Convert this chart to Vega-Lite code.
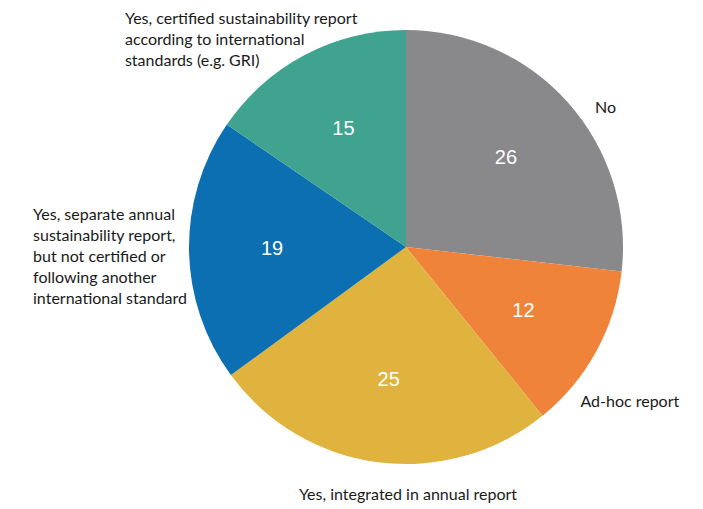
{
  "$schema": "https://vega.github.io/schema/vega-lite/v6.json",
  "width": 594,
  "height": 494,
  "autosize": {"type": "none"},
  "padding": {"left": 109, "right": 0, "top": 0, "bottom": 15},
  "background": "white",
  "view": {"stroke": null},
  "data": {
    "values": [
      {"rank": 1, "category": "No", "value": 26, "label": "No"},
      {"rank": 2, "category": "Ad-hoc report", "value": 12, "label": "Ad-hoc report"},
      {"rank": 3, "category": "Yes, integrated in annual report", "value": 25, "label": "Yes, integrated in annual report"},
      {"rank": 4, "category": "Yes, separate annual sustainability report", "value": 19, "label": "Yes, separate annual\nsustainability report,\nbut not certified or\nfollowing another\ninternational standard"},
      {"rank": 5, "category": "Yes, certified sustainability report", "value": 15, "label": "Yes, certified sustainability report\naccording to international\nstandards (e.g. GRI)"}
    ]
  },
  "encoding": {
    "theta": {"field": "value", "type": "quantitative", "stack": true},
    "order": {"field": "rank", "type": "ordinal"}
  },
  "layer": [
    {
      "mark": {"type": "arc", "outerRadius": 217},
      "encoding": {
        "color": {
          "field": "category",
          "type": "nominal",
          "legend": null,
          "scale": {
            "domain": ["No", "Ad-hoc report", "Yes, integrated in annual report", "Yes, separate annual sustainability report", "Yes, certified sustainability report"],
            "range": ["#89898b", "#ef833a", "#dfb33d", "#0b6fb2", "#3fa390"]
          }
        }
      }
    },
    {
      "mark": {"type": "text", "radius": 134, "font": "Liberation Sans", "fontSize": 20, "color": "white", "align": "center", "baseline": "middle"},
      "encoding": {"text": {"field": "value", "type": "quantitative"}}
    },
    {
      "mark": {"type": "text", "radius": 240, "font": "Lato", "fontSize": 16, "color": "#1a1a1a", "align": "left", "baseline": "middle", "lineBreak": "\n", "lineHeight": 21, "dx": 10, "dy": 21},
      "encoding": {"text": {"condition": {"test": "datum.category === 'No'", "field": "label"}, "value": ""}}
    },
    {
      "mark": {"type": "text", "radius": 240, "font": "Lato", "fontSize": 16, "color": "#1a1a1a", "align": "left", "baseline": "middle", "lineBreak": "\n", "lineHeight": 21, "dx": -36, "dy": 40},
      "encoding": {"text": {"condition": {"test": "datum.category === 'Ad-hoc report'", "field": "label"}, "value": ""}}
    },
    {
      "mark": {"type": "text", "radius": 248, "font": "Lato", "fontSize": 16, "color": "#1a1a1a", "align": "center", "baseline": "middle", "lineBreak": "\n", "lineHeight": 21, "dx": 34, "dy": 2},
      "encoding": {"text": {"condition": {"test": "datum.category === 'Yes, integrated in annual report'", "field": "label"}, "value": ""}}
    },
    {
      "mark": {"type": "text", "radius": 240, "font": "Lato", "fontSize": 16, "color": "#1a1a1a", "align": "left", "baseline": "middle", "lineBreak": "\n", "lineHeight": 21, "dx": -133, "dy": -36},
      "encoding": {"text": {"condition": {"test": "datum.category === 'Yes, separate annual sustainability report'", "field": "label"}, "value": ""}}
    },
    {
      "mark": {"type": "text", "radius": 240, "font": "Lato", "fontSize": 16, "color": "#1a1a1a", "align": "left", "baseline": "middle", "lineBreak": "\n", "lineHeight": 21, "dx": -169, "dy": -16},
      "encoding": {"text": {"condition": {"test": "datum.category === 'Yes, certified sustainability report'", "field": "label"}, "value": ""}}
    }
  ]
}
